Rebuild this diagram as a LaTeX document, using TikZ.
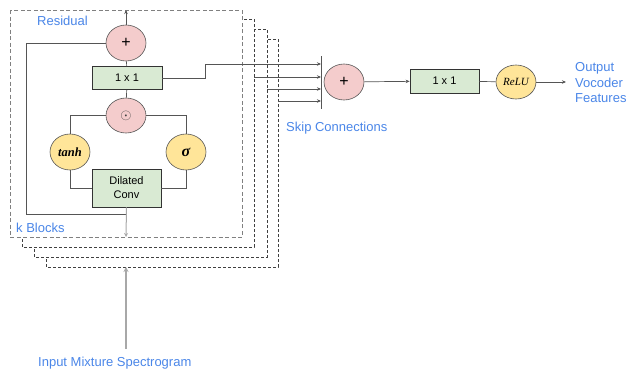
\documentclass[tikz,border=0pt]{standalone}
\usepackage{fontspec}
\setmainfont{Liberation Sans}
\newfontfamily\seriffont{Liberation Serif}
\usetikzlibrary{shapes.geometric,arrows.meta}
\definecolor{pinkfill}{HTML}{F4CCCC}
\definecolor{yellowfill}{HTML}{FFE599}
\definecolor{greenfill}{HTML}{D9EAD3}
\definecolor{labelblue}{HTML}{4A86E8}
\definecolor{edge}{HTML}{555555}
\definecolor{lightedge}{HTML}{A8A8A8}
\tikzset{
  opcirc/.style={ellipse, draw=edge, line width=0.6pt, fill=pinkfill, minimum width=40pt, minimum height=36pt, inner sep=0pt},
  actcirc/.style={ellipse, draw=edge, line width=0.6pt, fill=yellowfill, minimum width=40pt, minimum height=36pt, inner sep=0pt},
  convbox/.style={rectangle, draw=black!80, line width=0.8pt, fill=greenfill, inner sep=0pt, font=\fontsize{11}{14}\selectfont, align=center},
  conn/.style={draw=edge, line width=0.7pt},
  arr/.style={conn, -{Stealth[length=4pt,width=3.5pt]}},
  bluelabel/.style={text=labelblue, font=\fontsize{13}{15}\selectfont, inner sep=0pt},
  outerblock/.style={draw=black!75, line width=0.6pt, densely dashed, fill=white},
  mainblock/.style={draw=black!50, line width=0.9pt, dash pattern=on 4pt off 2.5pt, fill=white},
}
\begin{document}
\begin{tikzpicture}[x=1pt,y=-1pt]
\useasboundingbox (0,0) rectangle (627,370);
% stacked block frames
\draw[outerblock] (46,39) rectangle (278,267);
\draw[outerblock] (34,29) rectangle (267,257);
\draw[outerblock] (22,19) rectangle (254,247);
\draw[mainblock] (10,10) rectangle (242,237);
\coordinate (top) at (126,10);
\coordinate (bot) at (126,237);
\coordinate (inbot) at (126,267);
\coordinate (instart) at (126,349);

% nodes inside block
\node[opcirc, font=\fontsize{16}{16}\selectfont] (plus1) at (126,43) {+};
\node[convbox, minimum width=70pt, minimum height=23pt] (c1) at (127,78) {1 x 1};
\node[opcirc, minimum height=35pt, text=black!75, font=\fontsize{14}{14}\selectfont] (odot) at (126,115.5) {$\odot$};
\node[actcirc, font=\seriffont\bfseries\itshape\fontsize{12.5}{13}\selectfont] (tanh) at (70,152) {tanh};
\node[actcirc, font=\seriffont\bfseries\itshape\fontsize{16}{16}\selectfont] (sig) at (186,152) {σ};
\node[convbox, minimum width=69pt, minimum height=38pt] (conv) at (126.5,188) {Dilated\\Conv};

% internal connectors
\draw[conn] (odot) -- (c1);
\draw[conn] (c1) -- (plus1);
\draw[arr] (plus1) -- (top);
\draw[conn] (odot.west) -| (tanh.north);
\draw[conn] (odot.east) -| (sig.north);
\draw[conn] (tanh.south) |- (conv.west);
\draw[conn] (sig.south) |- (conv.east);
\draw[conn] (plus1.west) -- (26,43) -- (26,214) -- (126,214);
\draw[draw=lightedge, line width=1pt, -{Stealth[length=4pt,width=4pt]}] (conv.south) -- (bot);
\draw[draw=lightedge, line width=1.4pt, -{Stealth[length=5pt,width=5pt]}] (instart) -- (inbot);

% skip section
\node[opcirc, font=\fontsize{16}{16}\selectfont] (plus2) at (344,82) {+};
\node[convbox, minimum width=69pt, minimum height=24pt] (c2) at (444.5,81) {1 x 1};
\node[actcirc, minimum height=34pt, font=\seriffont\itshape\fontsize{11}{12}\selectfont] (relu) at (516,82) {ReLU};
\coordinate (bartop) at (321,56);
\coordinate (barbot) at (321,109);
\coordinate (k1) at (321,64);
\coordinate (k2) at (321,77);
\coordinate (k3) at (321,89);
\coordinate (k4) at (321,101);
\coordinate (s2) at (254,77);
\coordinate (s3) at (267,89);
\coordinate (s4) at (278,101);
\coordinate (outend) at (566,82);
\draw[conn] (bartop) -- (barbot);
\draw[arr] (c1.east) -- ++(43,0) |- (k1);
\draw[arr] (s2) -- (k2);
\draw[arr] (s3) -- (k3);
\draw[arr] (s4) -- (k4);
\draw[arr] (plus2) -- (c2);
\draw[conn] (c2) -- (relu);
\draw[arr] (relu) -- (outend);

% labels
\node[bluelabel, anchor=west] (lres) at (37,21) {Residual};
\node[bluelabel, anchor=west] (lk) at (16,228) {k Blocks};
\node[bluelabel, anchor=west] (lskip) at (286,128) {Skip Connections};
\node[bluelabel, anchor=west, align=left, font=\fontsize{13}{15.5}\selectfont] (lout) at (575,83) {Output\\Vocoder\\Features};
\node[bluelabel, anchor=west] (lin) at (38,363) {Input Mixture Spectrogram};
\end{tikzpicture}
\end{document}
